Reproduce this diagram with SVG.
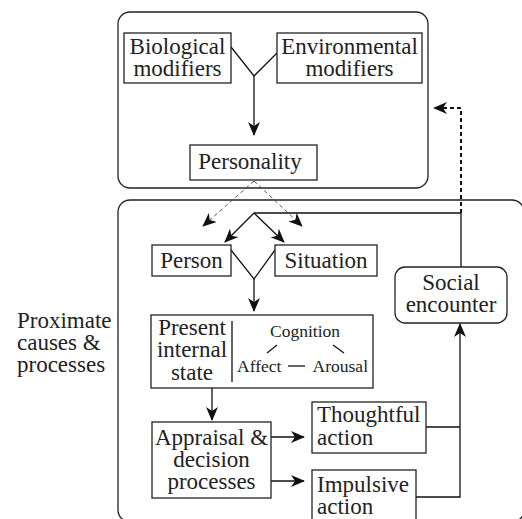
<svg xmlns="http://www.w3.org/2000/svg" width="522" height="519" viewBox="0 0 522 519">
<defs>
<marker id="ah" markerUnits="userSpaceOnUse" markerWidth="14" markerHeight="12" viewBox="0 0 14 12" refX="13" refY="6" orient="auto">
<path d="M0,0 L14,6 L0,12 L4,6 z" fill="#111"/>
</marker>
<style>
.box{fill:#fff;stroke:#222;stroke-width:1.3}
.grp{fill:none;stroke:#222;stroke-width:1.3}
.ln{fill:none;stroke:#111;stroke-width:1.3}
.dash{fill:none;stroke:#555;stroke-width:1;stroke-dasharray:4,3}
.dash2{fill:none;stroke:#111;stroke-width:2;stroke-dasharray:4,3}
text{font-family:'Liberation Serif','Times New Roman',serif;font-size:23px;fill:#222}
.m{text-anchor:middle}
.s{font-size:17.5px}
</style>
</defs>
<rect class="grp" x="118" y="12" width="310" height="176" rx="12"/>
<rect class="grp" x="118" y="200" width="406" height="322" rx="12"/>
<text x="17" y="328">Proximate</text>
<text x="17" y="350">causes &amp;</text>
<text x="17" y="372">processes</text>
<g id="connectors">
<polyline class="ln" points="231,47 254,76 277,53"/>
<line class="ln" x1="254" y1="76" x2="254" y2="135" marker-end="url(#ah)"/>
<line class="dash" x1="254" y1="181" x2="203" y2="226" marker-end="url(#ah)"/>
<line class="dash" x1="254" y1="181" x2="302" y2="226" marker-end="url(#ah)"/>
<line class="ln" x1="254" y1="213" x2="225" y2="242" marker-end="url(#ah)"/>
<line class="ln" x1="254" y1="213" x2="284" y2="242" marker-end="url(#ah)"/>
<polyline class="ln" points="254,213 461,213 461,267"/>
<polyline class="dash2" points="461,213 461,108 434,108" marker-end="url(#ah)"/>
<polyline class="ln" points="231,250 254,279 275,250"/>
<line class="ln" x1="254" y1="279" x2="254" y2="311" marker-end="url(#ah)"/>
<line class="ln" x1="212" y1="388" x2="212" y2="420" marker-end="url(#ah)"/>
<line class="ln" x1="271" y1="437" x2="304" y2="437" marker-end="url(#ah)"/>
<line class="ln" x1="271" y1="481" x2="304" y2="481" marker-end="url(#ah)"/>
<polyline class="ln" points="426,427 460,427"/>
<polyline class="ln" points="416,497 460,497 460,324" marker-end="url(#ah)"/>
</g>
<g id="biological">
<rect class="box" x="124" y="33" width="107" height="50"/>
<text class="m" x="177.5" y="54">Biological</text>
<text class="m" x="177.5" y="76">modifiers</text>
</g>
<g id="environmental">
<rect class="box" x="277" y="33" width="145" height="50"/>
<text class="m" x="349.5" y="54">Environmental</text>
<text class="m" x="349.5" y="76">modifiers</text>
</g>
<g id="personality">
<rect class="box" x="190" y="145" width="127" height="35"/>
<text class="m" x="250" y="169">Personality</text>
</g>
<g id="person">
<rect class="box" x="152" y="245" width="79" height="31"/>
<text class="m" x="191.5" y="268">Person</text>
</g>
<g id="situation">
<rect class="box" x="275" y="245" width="102" height="31"/>
<text class="m" x="326" y="268">Situation</text>
</g>
<g id="social-encounter">
<rect class="box" x="395" y="267" width="112" height="56" rx="10"/>
<text class="m" x="451" y="290">Social</text>
<text class="m" x="451" y="312">encounter</text>
</g>
<g id="present-internal-state">
<rect class="box" x="151" y="315" width="222" height="73"/>
<line class="ln" x1="232" y1="321" x2="232" y2="382"/>
<text class="m" x="192" y="335">Present</text>
<text class="m" x="192" y="357">internal</text>
<text class="m" x="192" y="380">state</text>
<text class="m s" x="305" y="337">Cognition</text>
<text class="s" x="237" y="372">Affect</text>
<text class="s" x="368" y="372" text-anchor="end">Arousal</text>
<line class="ln" x1="267" y1="353" x2="277" y2="345"/>
<line class="ln" x1="333" y1="345" x2="344" y2="353"/>
<line class="ln" x1="288" y1="366" x2="305" y2="366"/>
</g>
<g id="appraisal">
<rect class="box" x="152" y="422" width="119" height="76"/>
<text class="m" x="211.5" y="445">Appraisal &amp;</text>
<text class="m" x="211.5" y="467">decision</text>
<text class="m" x="211.5" y="489">processes</text>
</g>
<g id="thoughtful-action">
<rect class="box" x="312" y="402" width="114" height="51"/>
<text x="317" y="422">Thoughtful</text>
<text x="317" y="445">action</text>
</g>
<g id="impulsive-action">
<rect class="box" x="312" y="470" width="104" height="60"/>
<text x="317" y="492">Impulsive</text>
<text x="317" y="514">action</text>
</g>
</svg>
